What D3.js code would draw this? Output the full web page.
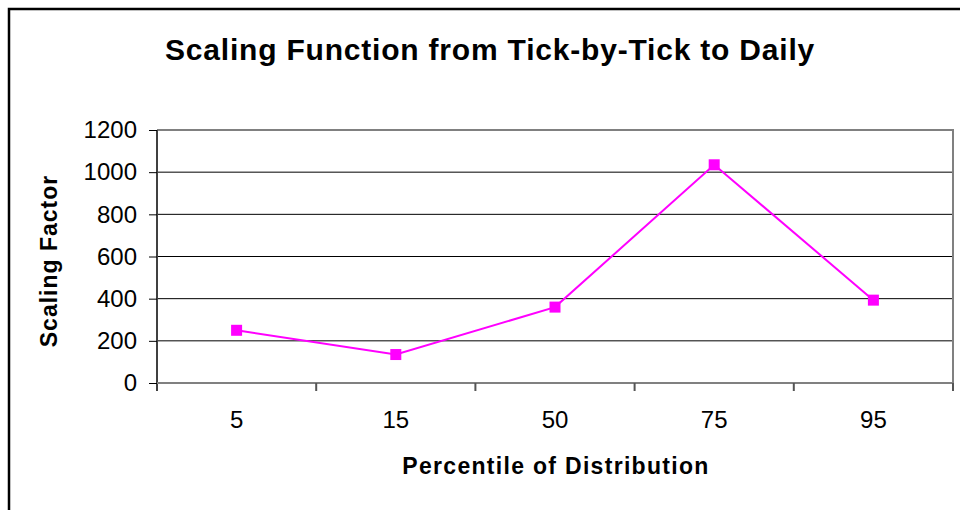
<!DOCTYPE html>
<html><head><meta charset="utf-8">
<script src="https://cdnjs.cloudflare.com/ajax/libs/d3/7.8.5/d3.min.js"></script>
<style>body{margin:0;background:#fff}svg{display:block;font-family:"Liberation Sans",Arial,sans-serif}</style>
</head><body><svg id="c" width="960" height="510"></svg>
<script>
const categories = ["5","15","50","75","95"];
const values = [250, 135, 360, 1035, 393];
const yTicks = [0,200,400,600,800,1000,1200];
const title = "Scaling Function from Tick-by-Tick to Daily";
const xTitle = "Percentile of Distribution";
const yTitle = "Scaling Factor";

const svg = d3.select("#c");
const m = {left:157, top:130, right:953, bottom:383};
// outer frame
svg.append("rect").attr("x",9).attr("y",9).attr("width",1000).attr("height",600)
  .attr("fill","#fff").attr("stroke","#000").attr("stroke-width",2.5);

const x = d3.scaleBand().domain(categories).range([m.left,m.right]).padding(0);
const y = d3.scaleLinear().domain([0,1200]).range([m.bottom,m.top]);

// gridlines
svg.append("g").selectAll("line").data(yTicks.filter(d=>d>0 && d<1200)).join("line")
  .attr("x1",m.left).attr("x2",m.right).attr("y1",d=>y(d)).attr("y2",d=>y(d))
  .attr("stroke","#000").attr("stroke-width",1);
// plot border (top/right grey)
svg.append("path").attr("d",`M${m.left},${m.top}H${m.right}V${m.bottom}`)
  .attr("fill","none").attr("stroke","#808080").attr("stroke-width",2);

// y axis
const ya = svg.append("g").attr("transform",`translate(${m.left},0)`)
  .call(d3.axisLeft(y).tickValues(yTicks).tickSize(8).tickPadding(12).tickFormat(d3.format("d")));
ya.select(".domain").attr("stroke","#404040").attr("stroke-width",2).attr("d",`M0,${m.top}V${m.bottom+8}`);
ya.selectAll(".tick line").attr("stroke","#000");
ya.selectAll("text").attr("font-size",24).attr("fill","#000").attr("font-family","Liberation Sans, Arial, sans-serif");

// x axis
const xa = svg.append("g").attr("transform",`translate(0,${m.bottom})`)
  .call(d3.axisBottom(x).tickSize(0).tickPadding(28));
xa.select(".domain").attr("stroke","#808080").attr("stroke-width",2).attr("d",`M${m.left},0H${m.right}`);
xa.selectAll("text").attr("font-size",24).attr("fill","#000").attr("font-family","Liberation Sans, Arial, sans-serif");
const bounds = categories.map(c=>x(c)).concat([m.right]).slice(1);
xa.append("g").selectAll("line").data(bounds).join("line")
  .attr("x1",d=>d).attr("x2",d=>d).attr("y1",0).attr("y2",8)
  .attr("stroke","#555").attr("stroke-width",2);

// line + markers
const cx = c => x(c)+x.bandwidth()/2;
const line = d3.line().x((d,i)=>cx(categories[i])).y(d=>y(d));
svg.append("path").datum(values).attr("d",line).attr("fill","none")
  .attr("stroke","#FF00FF").attr("stroke-width",2);
svg.append("g").selectAll("rect").data(values).join("rect")
  .attr("x",(d,i)=>cx(categories[i])-5.5).attr("y",d=>y(d)-5.5)
  .attr("width",11).attr("height",11).attr("fill","#FF00FF");

// titles
svg.append("text").attr("x",490).attr("y",60).attr("text-anchor","middle")
  .attr("font-size",30).attr("font-weight","bold").attr("letter-spacing",0.8).text(title);
svg.append("text").attr("x",556).attr("y",474).attr("text-anchor","middle")
  .attr("font-size",23).attr("font-weight","bold").attr("letter-spacing",1.3).text(xTitle);
svg.append("text").attr("transform","translate(57,261) rotate(-90)").attr("text-anchor","middle")
  .attr("font-size",23).attr("font-weight","bold").attr("letter-spacing",1).text(yTitle);
</script></body></html>
